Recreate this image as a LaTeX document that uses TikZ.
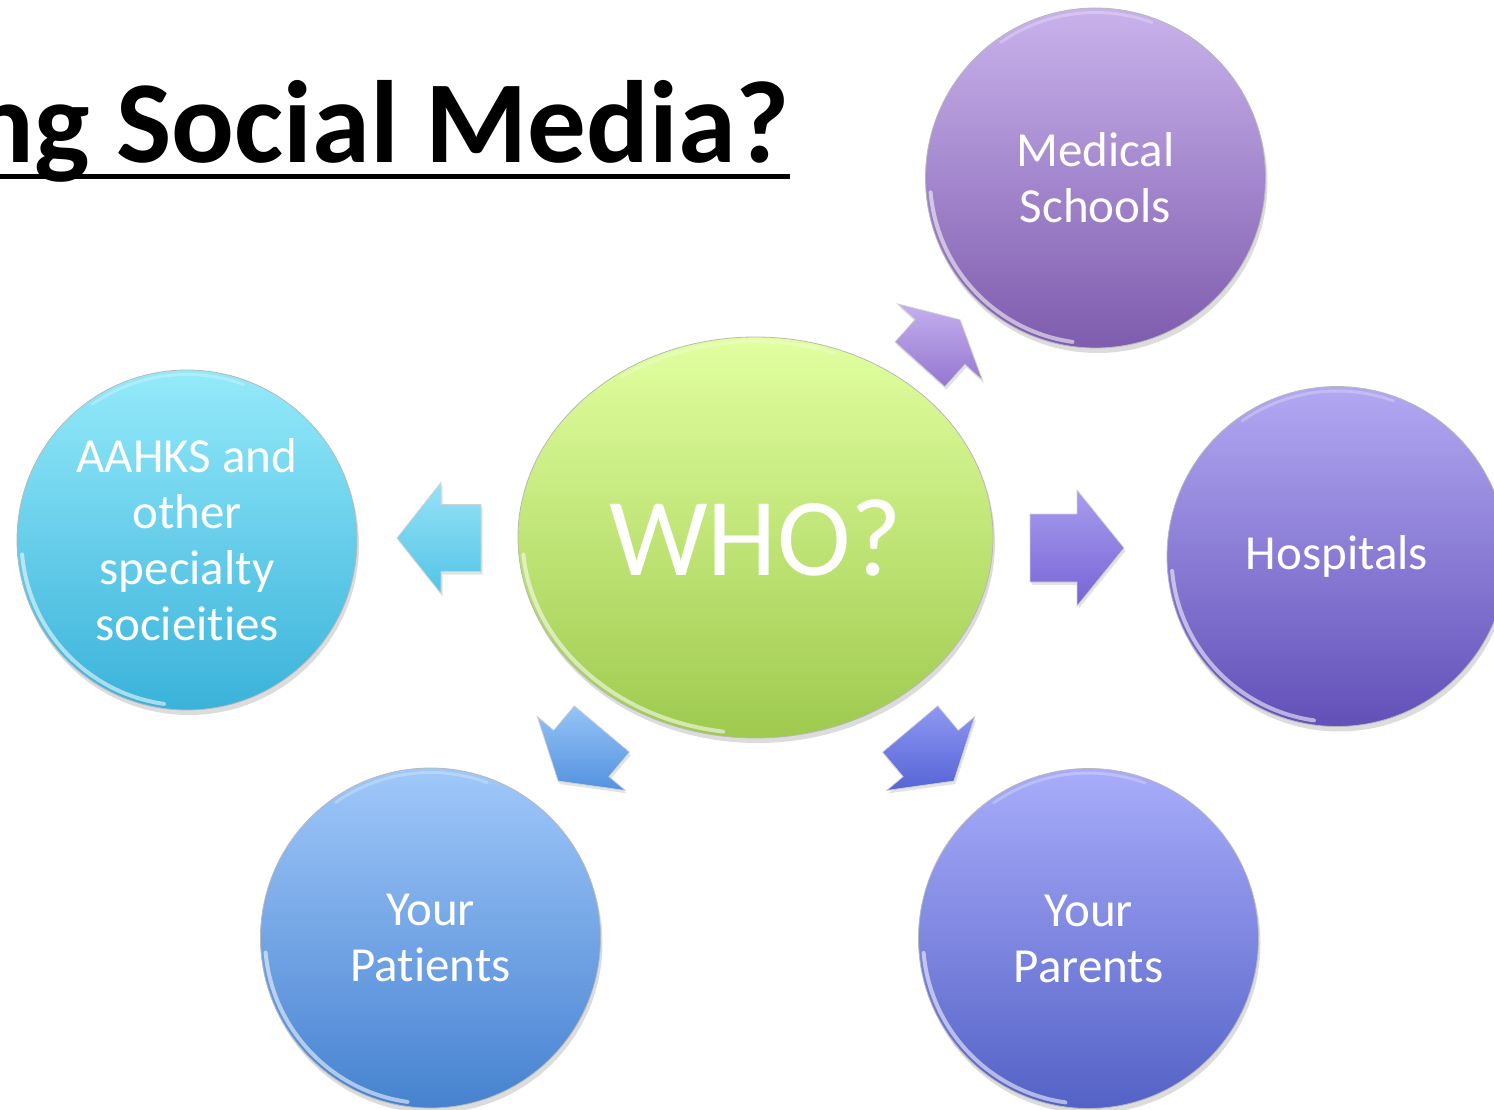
\documentclass[tikz,border=0pt]{standalone}
\usepackage{fontspec}
\setmainfont{Carlito}[Ligatures=NoCommon]
\usetikzlibrary{shapes.geometric,shadows}

% bubble colours (top / bottom of each gradient)
\definecolor{msTop}{RGB}{201,178,236}
\definecolor{msBot}{RGB}{126,92,174}
\definecolor{hoTop}{RGB}{178,168,242}
\definecolor{hoBot}{RGB}{98,80,184}
\definecolor{aaTop}{RGB}{148,234,250}
\definecolor{aaBot}{RGB}{58,178,218}
\definecolor{paTop}{RGB}{160,200,250}
\definecolor{paBot}{RGB}{70,130,208}
\definecolor{prTop}{RGB}{168,172,250}
\definecolor{prBot}{RGB}{84,98,198}
\definecolor{whoTop}{RGB}{226,255,160}
\definecolor{whoBot}{RGB}{158,202,78}
% arrow colours
\definecolor{arUpTop}{RGB}{196,176,238}
\definecolor{arUpBot}{RGB}{148,118,208}
\definecolor{arLTop}{RGB}{150,226,246}
\definecolor{arLBot}{RGB}{82,196,230}
\definecolor{arRTop}{RGB}{168,156,238}
\definecolor{arRBot}{RGB}{118,100,214}
\definecolor{arDLTop}{RGB}{150,196,246}
\definecolor{arDLBot}{RGB}{82,146,224}
\definecolor{arDRTop}{RGB}{142,152,242}
\definecolor{arDRBot}{RGB}{86,100,214}

% block arrow pointing along +x, centred on the origin
% #1 length, #2 head length, #3 head width, #4 shaft width
\newcommand\blockarrowpath[4]{%
  (-#1/2,-#4/2) -- (#1/2-#2,-#4/2) -- (#1/2-#2,-#3/2) -- (#1/2,0)
  -- (#1/2-#2,#3/2) -- (#1/2-#2,#4/2) -- (-#1/2,#4/2) -- cycle}

\begin{document}
\begin{tikzpicture}[x=1pt,y=-1pt,
  bubble/.style={circle, minimum size=340pt, inner sep=0pt,
    draw=black!28, line width=0.8pt, text=white, align=center,
    font=\fontsize{49}{56}\selectfont,
    drop shadow={opacity=0.28, shadow xshift=2pt, shadow yshift=-5pt}},
  blockarrow/.style={draw=black!18, line width=0.7pt,
    drop shadow={opacity=0.22, shadow xshift=1.5pt, shadow yshift=-3pt}},
  rim/.style={white, line width=4pt, opacity=0.55, line cap=round},
  softrim/.style={white, line width=3pt, opacity=0.25, line cap=round}]
\useasboundingbox (0,0) rectangle (1494,1110);
\clip (0,0) rectangle (1494,1110);

% heading
\node[anchor=base east, inner sep=0pt,
      font=\fontsize{117}{122}\selectfont\bfseries] (title) at (790,163)
  {ng Social Media?};
\draw[line width=5pt] (0,177) -- (790,177);

% centre ellipse
\node[ellipse, minimum width=475pt, minimum height=401pt, inner sep=0pt,
      draw=black!28, line width=0.8pt, top color=whoTop, bottom color=whoBot,
      text=white, font=\fontsize{111}{120}\selectfont,
      drop shadow={opacity=0.28, shadow xshift=2pt, shadow yshift=-5pt}]
  (who) at (755.5,537.5) {WHO?};

% outer bubbles
\node[bubble, top color=msTop, bottom color=msBot] (med) at (1095.5,178) {Medical\\Schools};
\node[bubble, top color=hoTop, bottom color=hoBot] (hosp) at (1337,556.5) {Hospitals};
\node[bubble, top color=aaTop, bottom color=aaBot] (aahks) at (187,540) {AAHKS and\\other\\specialty\\socieities};
\node[bubble, top color=paTop, bottom color=paBot] (pat) at (430.5,938) {Your\\Patients};
\node[bubble, top color=prTop, bottom color=prBot] (par) at (1088.5,938.5) {Your\\Parents};

% glossy rims
\begin{scope}[y=1pt]
  \foreach \n in {med,hosp,aahks,pat,par}{
    \draw[rim] ([shift={(185:165.5)}]\n.center) arc[start angle=185, end angle=262, radius=165.5];
    \draw[softrim] ([shift={(70:165.5)}]\n.center) arc[start angle=70, end angle=125, radius=165.5];
  }
  \draw[rim] ([shift={(185:233 and 196)}]who.center)
    arc[start angle=185, end angle=262, x radius=233, y radius=196];
  \draw[softrim] ([shift={(70:233 and 196)}]who.center)
    arc[start angle=70, end angle=125, x radius=233, y radius=196];
\end{scope}

% arrows from the centre towards each bubble
\path[blockarrow, top color=arUpTop, bottom color=arUpBot,
      shift={(940,342)}, rotate=48] \blockarrowpath{60}{30}{114}{67};
\path[blockarrow, top color=arLTop, bottom color=arLBot,
      shift={(439,538)}, rotate=180] \blockarrowpath{84}{44}{111}{67};
\path[blockarrow, top color=arRTop, bottom color=arRBot,
      shift={(1077,548)}, rotate=0] \blockarrowpath{94}{47}{116}{68};
\path[blockarrow, top color=arDLTop, bottom color=arDLBot,
      shift={(580,755)}, rotate=230] \blockarrowpath{68}{36}{115}{72};
\path[blockarrow, top color=arDRTop, bottom color=arDRBot,
      shift={(932,755)}, rotate=310] \blockarrowpath{68}{36}{115}{72};
\end{tikzpicture}
\end{document}
